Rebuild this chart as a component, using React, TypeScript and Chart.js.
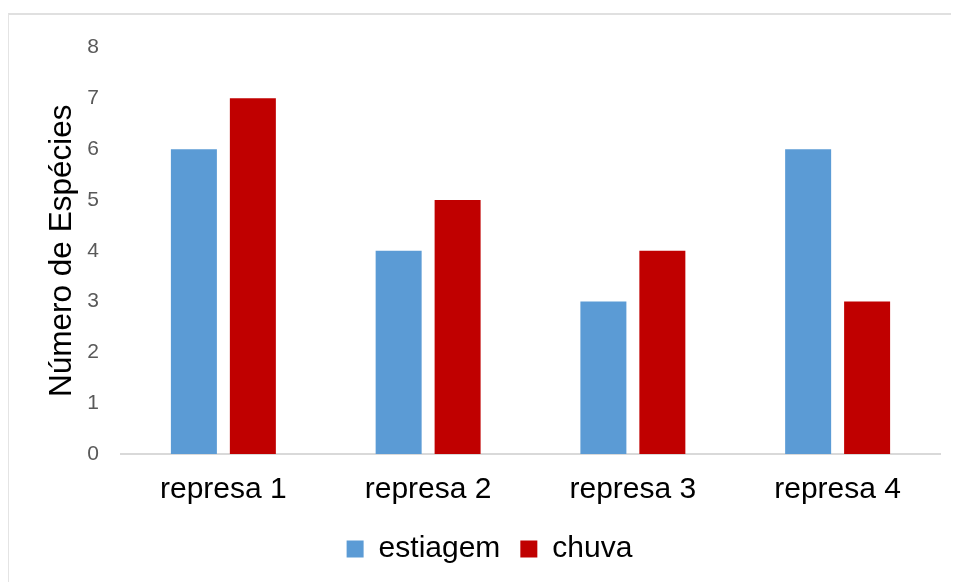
import React, { useEffect, useRef } from "react";
import { Chart, registerables } from "chart.js";

Chart.register(...registerables);

const categories = ["represa 1", "represa 2", "represa 3", "represa 4"];
const estiagem = [6, 4, 3, 6];
const chuva = [7, 5, 4, 3];
const seriesNames = ["estiagem", "chuva"];
const yTitle = "Número de Espécies";

const FONT = "'Liberation Sans', Arial, sans-serif";

export default function App() {
  const ref = useRef<HTMLCanvasElement | null>(null);

  useEffect(() => {
    if (!ref.current) return;
    const chart = new Chart(ref.current, {
      type: "bar",
      data: {
        labels: categories,
        datasets: [
          {
            label: seriesNames[0],
            data: estiagem,
            backgroundColor: "#5B9BD5",
            categoryPercentage: 0.576,
            barPercentage: 0.78,
          },
          {
            label: seriesNames[1],
            data: chuva,
            backgroundColor: "#C00000",
            categoryPercentage: 0.576,
            barPercentage: 0.78,
          },
        ],
      },
      options: {
        responsive: false,
        animation: false,
        layout: {
          autoPadding: false,
          padding: { left: 30, right: 19, top: 20, bottom: 8 },
        },
        plugins: {
          tooltip: { enabled: false },
          legend: {
            position: "bottom",
            labels: {
              boxWidth: 17,
              boxHeight: 17,
              padding: 20,
              color: "#000",
              font: { family: FONT, size: 30, lineHeight: 1.0 },
            },
          },
        },
        scales: {
          x: {
            grid: { display: false, drawTicks: false },
            border: { display: true, color: "#d9d9d9", width: 2 },
            afterFit: (scale: any) => {
              scale.height = 60;
            },
            ticks: {
              color: "#000",
              padding: 26,
              font: { family: FONT, size: 30, lineHeight: 0.6667 },
            },
          },
          y: {
            min: 0,
            max: 8,
            grid: { display: false, drawTicks: false },
            border: { display: false },
            afterFit: (scale: any) => {
              scale.width = 82;
            },
            ticks: {
              stepSize: 1,
              color: "#595959",
              padding: 22,
              font: { family: FONT, size: 21, lineHeight: 1.0 },
            },
            title: {
              display: true,
              text: yTitle,
              color: "#000",
              padding: { top: 4, bottom: 4 },
              font: { family: FONT, size: 31.5, lineHeight: 1.2 },
            },
          },
        },
      },
    });
    return () => chart.destroy();
  }, []);

  return (
    <div
      style={{
        marginTop: 5,
        width: 951,
        height: 569,
        boxSizing: "border-box",
        borderTop: "2px solid #e0e0e0",
        borderLeft: "1px solid #e4e4e4",
        background: "#fff",
        overflow: "hidden",
      }}
    >
      <canvas ref={ref} width={950} height={567} style={{ display: "block" }} />
    </div>
  );
}
